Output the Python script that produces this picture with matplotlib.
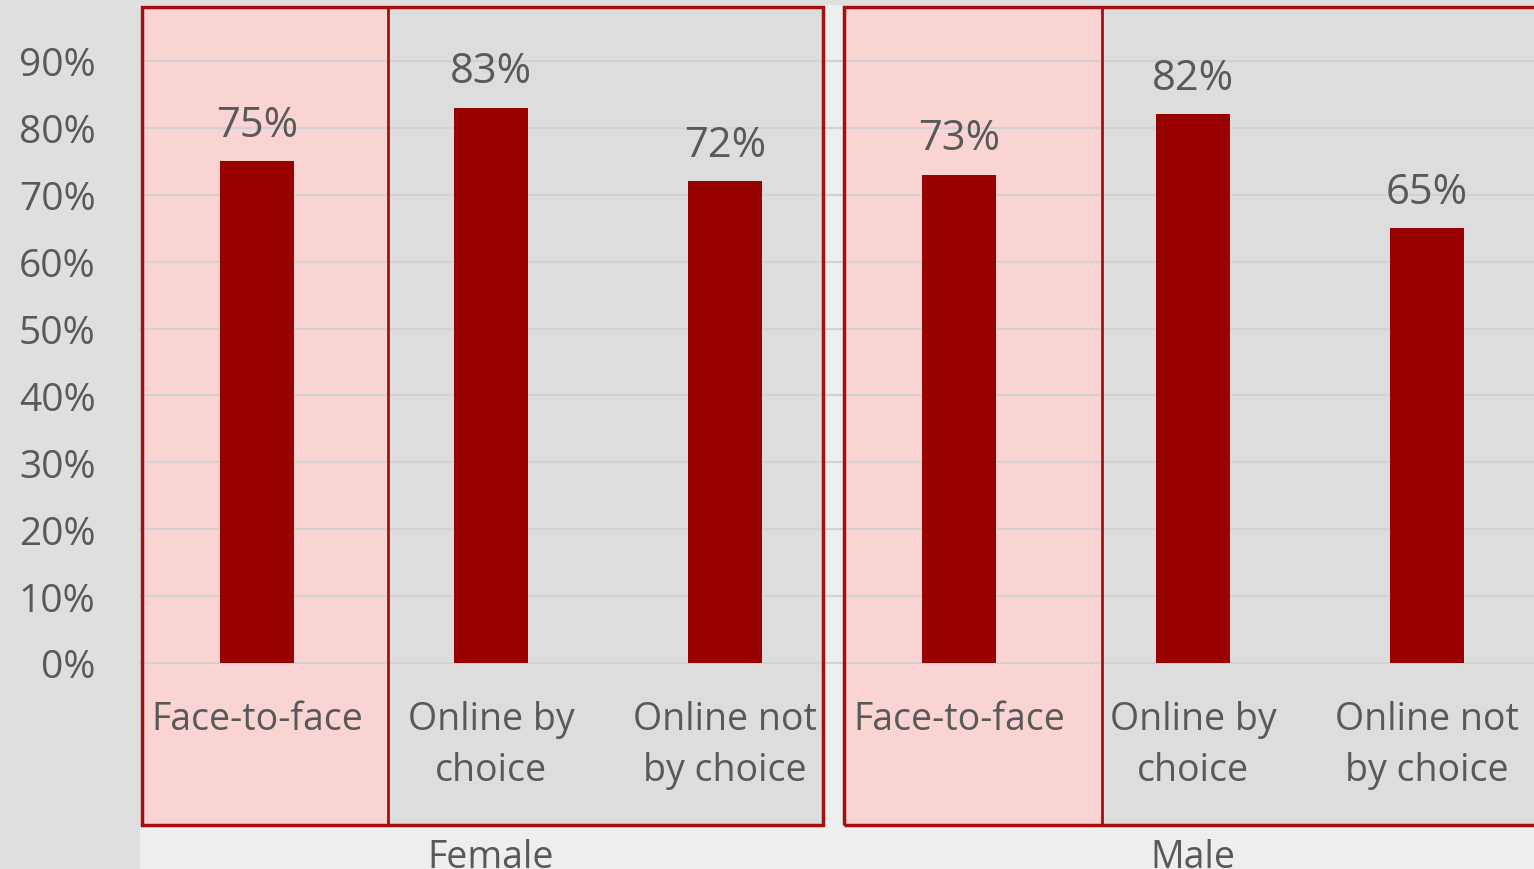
import matplotlib
matplotlib.use("Agg")
import matplotlib.pyplot as plt
from matplotlib.patches import Rectangle
from matplotlib.ticker import PercentFormatter
import numpy as np

plt.rcParams['font.family'] = ['Open Sans', 'DejaVu Sans']

groups = ["Female", "Male"]
categories = ["Face-to-face", "Online by\nchoice", "Online not\nby choice"]
values = [[0.75, 0.83, 0.72],
          [0.73, 0.82, 0.65]]
yticks = [0.0, 0.1, 0.2, 0.3, 0.4, 0.5, 0.6, 0.7, 0.8, 0.9]

BAR = "#990000"
EDGE = "#a50f0f"
TEXT = "#595959"
PINK = "#fad3d3"
GREY = "#dddddd"

W, H = 1534, 870
fig = plt.figure(figsize=(W / 100, H / 100), dpi=100)
fig.patch.set_facecolor("#dfdfdf")

# axes span pixels x 140..1534, y 6..870 ; value 0 at pixel 664, 10% = 66.9 px
px = 0.669
y_top = (664 - 6) / px / 1000
y_bot = -(870 - 664) / px / 1000
ax = fig.add_axes([140 / W, 0, (W - 140) / W, (H - 6) / H])
ax.set_xlim(-0.5, -0.5 + (W - 140) / 234)
ax.set_ylim(y_bot, y_top)
ax.set_facecolor("#eeeeee")
for s in ax.spines.values():
    s.set_visible(False)

n = len(categories)
box_bottom = -(826 - 664) / px / 1000
for g, name in enumerate(groups):
    x0 = g * n
    xs = np.arange(x0, x0 + n)
    left = x0 - 0.49
    right = x0 + n - 0.58 if g == 0 else x0 + n + 1
    split = x0 + 0.56 if g == 0 else x0 + 0.61
    ax.add_patch(Rectangle((left, box_bottom), split - left, y_top - 0.003 - box_bottom,
                           facecolor=PINK, edgecolor="none", zorder=0.5))
    ax.add_patch(Rectangle((split, box_bottom), right - split, y_top - 0.003 - box_bottom,
                           facecolor=GREY, edgecolor="none", zorder=0.5))
    ax.add_patch(Rectangle((left, box_bottom), right - left, y_top - 0.003 - box_bottom,
                           facecolor="none", edgecolor=EDGE, lw=2.5, zorder=4))
    ax.plot([split, split], [box_bottom, y_top - 0.003], color=EDGE, lw=2, zorder=4)

    ax.bar(xs, values[g], width=0.316, color=BAR, zorder=3)
    for x, v in zip(xs, values[g]):
        ax.text(x, v + 0.023, f"{v:.0%}", ha="center", va="bottom",
                fontsize=30, color=TEXT, zorder=5)
    for x, c in zip(xs, categories):
        ax.text(x, -0.056, c, ha="center", va="top", fontsize=27,
                color=TEXT, linespacing=1.42, zorder=5)
    ax.text(x0 + 1, -0.262, name, ha="center", va="top", fontsize=27,
            color=TEXT, zorder=5)

ax.set_xticks([])
ax.set_yticks(yticks)
ax.yaxis.set_major_formatter(PercentFormatter(1.0, decimals=0))
ax.tick_params(axis="y", length=0, pad=32, labelsize=28, labelcolor=TEXT)
ax.grid(axis="y", color="#d2d2d2", lw=1.5, zorder=1)
ax.set_axisbelow(False)
for gl in ax.get_ygridlines():
    gl.set_zorder(1)

fig.savefig("out.png", dpi=100, facecolor=fig.get_facecolor())
